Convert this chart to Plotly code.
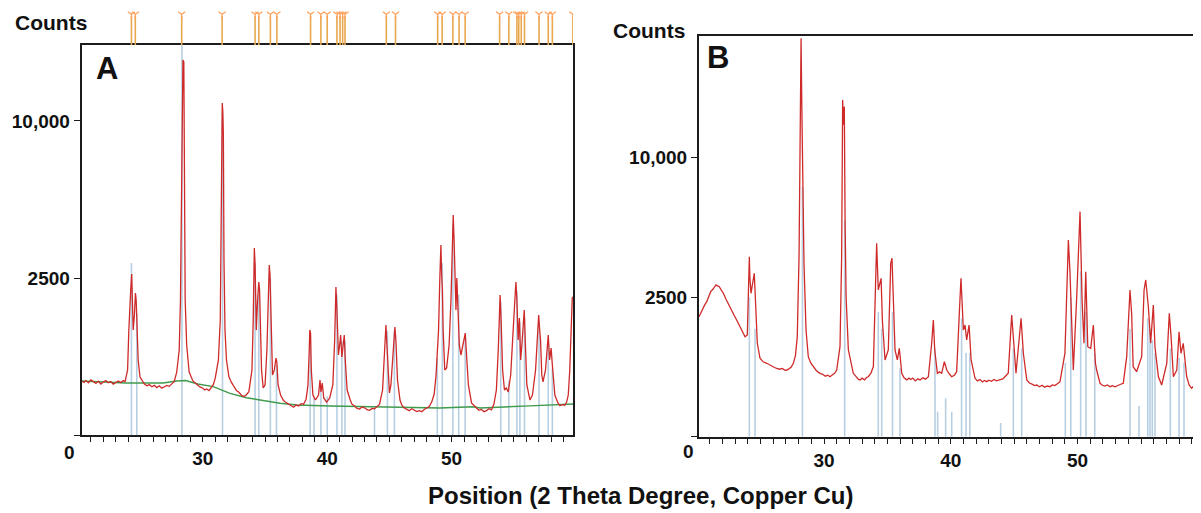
import numpy as np
import plotly.graph_objects as go

# ---------------- Panel A data (2 theta degree, counts) ----------------
a_two_theta = [
    20.26, 20.45, 20.6, 20.8, 21.0, 21.2, 21.4, 21.6, 21.8, 22.0, 22.2, 22.4, 22.6, 22.8, 23.0, 23.2, 23.4, 23.6, 23.75,
    23.95, 24.05, 24.12, 24.2, 24.28, 24.34, 24.4, 24.5, 24.58, 24.64, 24.7, 24.8, 24.95,
    25.3, 25.5, 25.7, 25.9, 26.1, 26.3, 26.5, 26.7, 26.9, 27.1, 27.3, 27.5, 27.7,
    27.9, 28.1, 28.2, 28.28, 28.33, 28.4, 28.47, 28.52, 28.58, 28.7, 28.9,
    29.2, 29.4, 29.6, 29.8, 30.0, 30.15, 30.3, 30.5, 30.7, 30.85, 31.0,
    31.25, 31.4, 31.48, 31.52, 31.56, 31.6, 31.65, 31.7, 31.78, 31.9,
    32.1, 32.3, 32.5, 32.7, 32.9, 33.1, 33.3, 33.5, 33.7,
    33.95, 34.05, 34.1, 34.14, 34.2, 34.3, 34.4, 34.5, 34.56, 34.62, 34.72, 34.85, 35.0, 35.15, 35.25,
    35.34, 35.4, 35.48, 35.6, 35.75, 35.88, 35.95, 36.05,
    36.25, 36.45, 36.6, 36.8, 37.0, 37.15, 37.3, 37.5, 37.7, 37.9, 38.1, 38.3,
    38.45, 38.55, 38.6, 38.66, 38.72, 38.85, 39.05, 39.3, 39.42, 39.5, 39.6, 39.72, 39.95, 40.2, 40.45,
    40.6, 40.7, 40.78, 40.9, 41.0, 41.08, 41.18, 41.3, 41.37, 41.45, 41.6,
    41.85, 42.0, 42.2, 42.4, 42.6, 42.8, 43.0, 43.2, 43.4, 43.6, 43.8, 44.0, 44.2,
    44.45, 44.6, 44.72, 44.8, 44.9, 45.0, 45.12, 45.3, 45.44, 45.52, 45.65,
    45.85, 46.0, 46.2, 46.4, 46.6, 46.8, 47.0, 47.2, 47.4, 47.6, 47.8, 48.0, 48.2, 48.4,
    48.6, 48.75, 48.95, 49.05, 49.14, 49.2, 49.26, 49.32, 49.45, 49.6, 49.8, 49.95, 50.05, 50.13,
    50.2, 50.28, 50.35, 50.42, 50.5, 50.62, 50.75, 50.9, 51.02, 51.1, 51.2, 51.35,
    51.6, 51.8, 52.0, 52.2, 52.4, 52.6, 52.8, 53.0, 53.2, 53.4,
    53.6, 53.75, 53.85, 53.9, 53.98, 54.1, 54.25, 54.4, 54.55, 54.75, 54.95, 55.1, 55.17, 55.25,
    55.35, 55.45, 55.55, 55.65, 55.75, 55.84, 55.92, 56.05, 56.3, 56.5, 56.75, 56.9, 57.0, 57.08,
    57.15, 57.25, 57.35, 57.55, 57.7, 57.77, 57.88, 58.0, 58.1, 58.3,
    58.55, 58.7, 58.9, 59.1, 59.25, 59.38, 59.5, 59.6, 59.7, 59.76]
a_counts = [
    296, 280, 300, 275, 307, 290, 270, 295, 264, 285, 300, 278, 290, 262, 275, 295, 280, 300, 290,
    429, 1118, 1767, 2132, 2629, 1849, 1118, 1461, 2045, 1849, 1055, 571, 341,
    264, 245, 258, 236, 250, 228, 246, 222, 238, 250, 240, 268, 290,
    402, 733, 1849, 6596, 10193, 14260, 14110, 5272, 1849, 821, 402,
    296, 270, 250, 232, 222, 205, 215, 200, 235, 260, 330,
    571, 1341, 5600, 10193, 11180, 10712, 9128, 3106, 1118, 571,
    341, 280, 235, 200, 185, 160, 150, 165, 190,
    429, 1341, 2761, 3547, 2931, 1118, 1849, 2374, 2132, 1341, 429, 224, 254, 733, 1849,
    2931, 2597, 1118, 365, 429, 601, 540, 254,
    162, 125, 112, 100, 94, 82, 78, 92, 85, 100, 96, 130,
    250, 700, 1118, 1055, 429, 162, 124, 162, 307, 188, 274, 139, 110, 139, 254,
    915, 2222, 1585, 649, 822, 1014, 617, 822, 1014, 571, 205,
    124, 95, 85, 72, 68, 80, 75, 65, 62, 72, 70, 82, 95,
    205, 733, 1227, 822, 330, 179, 254, 733, 1183, 915, 307,
    124, 90, 74, 66, 60, 70, 64, 56, 60, 55, 66, 72, 82, 110,
    170, 365, 1118, 2437, 3661, 2597, 2132, 1118, 429, 455, 822, 1849, 3470, 4909,
    3857, 1849, 1585, 2500, 1585, 822, 649, 822, 1014, 1055, 649, 254,
    104, 85, 74, 62, 66, 55, 60, 70, 64, 95,
    205, 733, 1849, 1988, 1341, 429, 205, 224, 188, 365, 1118, 2132, 2374, 1849,
    915, 1388, 571, 822, 1118, 1585, 915, 254, 124, 162, 429, 915, 1461, 1118,
    915, 365, 285, 429, 915, 1014, 571, 768, 497, 162,
    104, 88, 94, 90, 110, 162, 429, 1118, 1904, 1932]

a_bg_two_theta = [20.26, 23.8, 26.8, 27.9, 28.6, 29.6, 30.84, 32.18, 33.52, 34.86, 36.2, 37.54,
                  38.88, 40.22, 45.85, 49.06, 51.7, 52.3, 56.3, 59.76]
a_bg_counts = [296, 274, 274, 296, 301, 264, 237, 176, 141, 119, 102, 91,
               87, 85, 78, 74, 81, 74, 86, 97]

a_ref_pos = [24.26, 24.69, 28.32, 31.58, 34.2, 34.5, 35.43, 35.92, 38.63, 38.94, 39.49, 40.0,
             40.78, 41.18, 41.43, 43.8, 44.84, 45.4, 48.85, 49.25, 50.1, 50.57, 51.09, 53.95,
             54.6, 55.25, 55.49, 55.86, 57.03, 57.77, 58.1]
a_ref_counts = [3000, 1500, 15400, 10500, 3000, 2000, 2500, 500, 1000, 150, 250, 150,
                2000, 900, 900, 75, 1100, 1100, 600, 3000, 4500, 2000, 1000, 1800,
                300, 2100, 1300, 1400, 1300, 900, 450]

a_marker_pos = [24.26, 24.57, 28.3, 31.55, 34.2, 34.5, 35.43, 35.95, 38.66, 39.49, 40.0,
                40.78, 41.03, 41.24, 41.43, 44.75, 45.49, 48.88, 49.24, 50.1, 50.6, 51.09,
                53.86, 54.6, 55.25, 55.4, 55.6, 55.86, 57.03, 57.77, 58.1, 59.75]

# ---------------- Panel B data ----------------
b_two_theta = [
    20.14, 20.3, 20.43, 20.6, 20.75, 20.9, 21.06, 21.25, 21.48, 21.6, 21.74, 21.9, 22.06, 22.3, 22.59, 22.9,
    23.24, 23.5, 23.77, 23.95,
    24.03, 24.11, 24.15, 24.24, 24.5, 24.61, 24.74,
    24.95, 25.2, 25.48, 25.7, 25.9, 26.1, 26.27, 26.5, 26.7, 26.9, 27.06, 27.25, 27.4, 27.58, 27.75,
    27.89, 28.03, 28.11, 28.19, 28.25, 28.32, 28.42, 28.58,
    28.76, 28.95, 29.16, 29.4, 29.68, 29.9, 30.1, 30.3, 30.47, 30.7, 30.85, 31.0,
    31.26, 31.39, 31.47, 31.53, 31.6, 31.66, 31.74, 31.92,
    32.31, 32.5, 32.7, 32.84, 33.0, 33.2, 33.35, 33.49, 33.7, 33.89,
    34.02, 34.15, 34.28, 34.5, 34.6, 34.81, 35.07, 35.26, 35.36, 35.47, 35.6, 35.78, 35.94,
    36.13, 36.3, 36.52, 36.7, 36.85, 37.0, 37.2, 37.4, 37.57, 37.8, 38.0, 38.23,
    38.49, 38.62, 38.73, 38.94, 39.1, 39.28, 39.49, 39.68, 39.9, 40.07, 40.3, 40.46, 40.67, 40.8,
    40.99, 41.12, 41.25, 41.44, 41.6,
    41.91, 42.1, 42.3, 42.5, 42.65, 42.83, 43.0, 43.2, 43.4, 43.6, 43.88, 44.1, 44.3,
    44.53, 44.8, 44.93, 45.14, 45.54, 45.72,
    45.99, 46.2, 46.4, 46.6, 46.77, 47.0, 47.2, 47.4, 47.6, 47.82, 48.0, 48.2, 48.4, 48.61,
    49.0, 49.27, 49.4, 49.66, 49.93, 50.19, 50.35, 50.5, 50.64, 50.8, 51.03, 51.24, 51.4, 51.5,
    51.77, 51.95, 52.15, 52.35, 52.56, 52.75, 52.95, 53.15, 53.35, 53.6,
    53.87, 54.13, 54.26, 54.38, 54.65, 55.05, 55.24, 55.37, 55.58, 55.76, 55.97, 56.1, 56.37, 56.63,
    57.03, 57.23, 57.37, 57.55, 57.82, 58.0, 58.15, 58.33, 58.6,
    58.8, 58.99, 59.15, 59.3, 59.45, 59.59, 59.73]
b_counts = [
    1850, 1990, 2062, 2240, 2341, 2500, 2701, 2800, 2956, 2920, 2891, 2760, 2642, 2400, 2171, 1900,
    1651, 1450, 1285, 1330,
    3023, 4162, 3288, 2642, 3430, 2401, 1121,
    790, 720, 692, 660, 640, 615, 601, 585, 600, 570, 567, 590, 620, 692, 850,
    1285, 4162, 10800, 20390, 14000, 9716, 3865, 1462,
    822, 700, 629, 560, 516, 500, 470, 485, 462, 490, 520, 571,
    1040, 4162, 14570, 12500, 13990, 6130, 2518, 966,
    516, 470, 425, 413, 440, 415, 450, 462, 520, 629,
    2518, 4804, 2766, 3223, 1750, 756, 966, 3865, 4090, 1955, 966, 756, 1003,
    516, 450, 413, 440, 420, 441, 400, 430, 413, 445, 425, 462,
    1121, 1750, 966, 516, 540, 516, 723, 571, 500, 462, 490, 543, 1955, 3223,
    1462, 1601, 1202, 1601, 756,
    438, 400, 420, 385, 405, 389, 410, 395, 420, 400, 413, 430, 470,
    516, 1903, 1202, 516, 1800, 893,
    413, 370, 355, 335, 343, 320, 340, 315, 330, 321, 345, 335, 360, 389,
    893, 4970, 3430, 571, 2518, 6505, 2401, 1121, 3497, 1040, 1000, 1601, 700, 571,
    366, 340, 330, 345, 321, 335, 320, 340, 350, 366,
    822, 2766, 1955, 629, 543, 822, 2766, 3155, 2171, 1121, 2228, 1040, 462, 343,
    692, 1955, 1285, 462, 571, 1416, 893, 1121, 462,
    340, 301, 330, 360, 700, 1651, 2400]

b_ref_pos = [24.11, 24.56, 28.3, 31.63, 34.28, 34.55, 35.4, 35.99, 38.75, 38.96, 39.59, 40.07,
             40.85, 41.2, 41.5, 43.93, 44.93, 45.59, 49.03, 49.46, 50.24, 50.66, 51.35, 54.13,
             54.84, 55.53, 55.71, 55.89, 56.1, 57.31, 58.0, 58.39]
b_ref_counts = [2500, 1500, 8000, 6000, 2000, 1500, 2000, 600, 1000, 80, 189, 80,
                1800, 900, 900, 24, 1000, 1000, 700, 2500, 3500, 2000, 900, 1500,
                121, 1800, 1500, 1200, 900, 1000, 800, 700]

assert len(a_two_theta) == len(a_counts)
assert len(b_two_theta) == len(b_counts)

# tick labels
x_major = [30, 40, 50]
y_tick_counts = [0, 2500, 10000]
y_tick_text = ["", "2500", "10,000"]

# ---------------- layout helpers (page has an 8 px body margin) ----------------
OFF = 8
W, H = 1201 - OFF, 513 - OFF

def px(x):
    return (x - OFF) / W

def py(y):
    return 1 - (y - OFF) / H

def sticks(pos, heights):
    xs, ys = [], []
    for p, h in zip(pos, heights):
        xs += [p, p, None]
        ys += [0, np.sqrt(h), None]
    return xs, ys

FONT = "Liberation Sans, Arial, sans-serif"
RED = "#cf2a2a"
BLUE = "#b7cfe2"
GREEN = "#3f9a4c"
ORANGE = "#e8a84e"
AXC = "#1c1c1c"

fig = go.Figure()

# Panel A
sx, sy = sticks(a_ref_pos, a_ref_counts)
fig.add_trace(go.Scatter(x=sx, y=sy, mode="lines", line=dict(color=BLUE, width=1.6),
                         xaxis="x", yaxis="y", hoverinfo="skip", showlegend=False))
fig.add_trace(go.Scatter(x=a_bg_two_theta, y=np.sqrt(a_bg_counts), mode="lines",
                         line=dict(color=GREEN, width=1.4), xaxis="x", yaxis="y", showlegend=False))
fig.add_trace(go.Scatter(x=a_two_theta, y=np.sqrt(a_counts), mode="lines",
                         line=dict(color=RED, width=1.3), xaxis="x", yaxis="y", showlegend=False))

# Orange reference markers above panel A
mx, my = [], []
for p in a_marker_pos:
    mx += [p, p, None]
    my += [0, 0.83, None]
fig.add_trace(go.Scatter(x=mx, y=my, mode="lines", line=dict(color=ORANGE, width=1.6),
                         xaxis="x3", yaxis="y3", showlegend=False, hoverinfo="skip"))
fig.add_trace(go.Scatter(x=a_marker_pos, y=[0.88] * len(a_marker_pos), mode="markers",
                         marker=dict(symbol="y-down-open", size=6, line=dict(color="#555", width=1.3)),
                         xaxis="x3", yaxis="y3", showlegend=False, hoverinfo="skip"))

# Panel B
sx, sy = sticks(b_ref_pos, b_ref_counts)
fig.add_trace(go.Scatter(x=sx, y=sy, mode="lines", line=dict(color=BLUE, width=1.6),
                         xaxis="x2", yaxis="y2", hoverinfo="skip", showlegend=False))
fig.add_trace(go.Scatter(x=b_two_theta, y=np.sqrt(b_counts), mode="lines",
                         line=dict(color=RED, width=1.3), xaxis="x2", yaxis="y2", showlegend=False))

tick_font = dict(family=FONT, size=19, color="#111", weight="bold")
x_ticks = list(range(21, 60))
x_text = [str(v) if v in x_major else "" for v in x_ticks]

def xaxis_cfg(domain, rng):
    return dict(domain=domain, range=rng, showline=True, linecolor=AXC, linewidth=2,
                mirror=True, ticks="outside", ticklen=5, tickwidth=1.3, tickcolor=AXC,
                tickvals=x_ticks, ticktext=x_text, tickfont=tick_font,
                showgrid=False, zeroline=False, fixedrange=True)

def yaxis_cfg(domain, rng, mirror, anchor):
    return dict(domain=domain, range=rng, showline=True, linecolor=AXC, linewidth=2,
                mirror=mirror, ticks="outside", ticklen=6, tickwidth=1.3, tickcolor=AXC,
                tickvals=list(np.sqrt(y_tick_counts)), ticktext=y_tick_text, tickfont=tick_font,
                showgrid=False, zeroline=False, anchor=anchor, fixedrange=True)

fig.update_layout(
    width=W, height=H, margin=dict(l=0, r=0, t=0, b=0),
    paper_bgcolor="white", plot_bgcolor="white",
    xaxis=dict(**xaxis_cfg([px(81.7), px(573)], [20.26, 59.76]), anchor="y"),
    yaxis=yaxis_cfg([py(435), py(45)], [0, 124.2], True, "x"),
    xaxis2=dict(**xaxis_cfg([px(699), 1.0], [20.14, 59.73]), anchor="y2"),
    yaxis2=yaxis_cfg([py(436.7), py(36)], [0, 143.6], False, "x2"),
    xaxis3=dict(domain=[px(81.7), px(573)], range=[20.26, 59.76], visible=False, anchor="y3",
                fixedrange=True),
    yaxis3=dict(domain=[py(45), py(10)], range=[0, 1], visible=False, anchor="x3", fixedrange=True),
    showlegend=False,
)

lab = dict(family=FONT, color="#111", weight="bold")
ann = [
    dict(text="Counts", x=px(51), y=py(22), font=dict(size=21, **lab)),
    dict(text="Counts", x=px(649), y=py(30), font=dict(size=21, **lab)),
    dict(text="A", x=px(107), y=py(68), font=dict(size=31, **lab)),
    dict(text="B", x=px(718), y=py(58), font=dict(size=31, **lab)),
    dict(text="0", x=px(69), y=py(452), font=dict(size=19, **lab)),
    dict(text="0", x=px(688), y=py(451), font=dict(size=19, **lab)),
    dict(text="Position (2 Theta Degree, Copper Cu)", x=px(640), y=py(495), font=dict(size=24, **lab)),
]
for a in ann:
    fig.add_annotation(xref="paper", yref="paper", showarrow=False, xanchor="center",
                       yanchor="middle", **a)

fig.write_html("out.html")
